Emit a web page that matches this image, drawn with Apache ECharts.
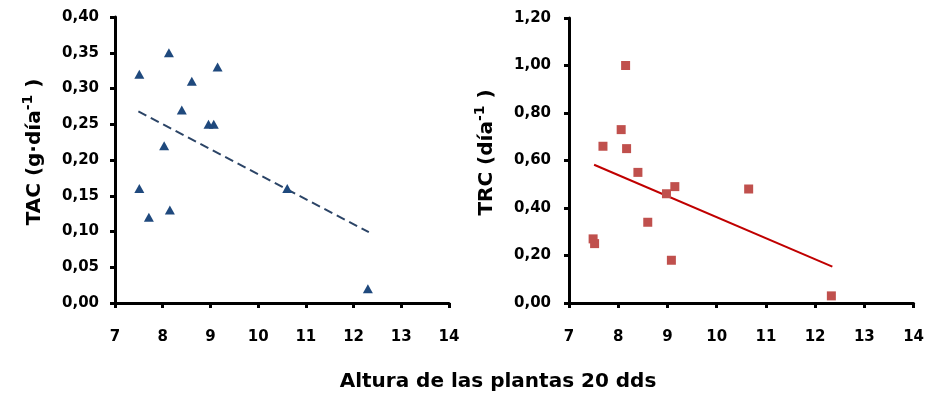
<!DOCTYPE html>
<html>
<head>
<meta charset="utf-8">
<script src="https://cdn.jsdelivr.net/npm/echarts@6/dist/echarts.min.js"></script>
<style>
  html, body { margin: 0; padding: 0; background: #fff; }
  #chart { width: 927px; height: 396px; }
</style>
</head>
<body>
<div id="chart"></div>
<script>
// TAC (left panel): plant height vs absolute growth rate
var tacHeight = [7.51, 8.13, 9.15, 8.61, 8.40, 8.96, 9.07, 8.03, 7.51, 7.71, 8.15, 10.61, 12.30];
var tacValue  = [0.32, 0.35, 0.33, 0.31, 0.27, 0.25, 0.25, 0.22, 0.16, 0.12, 0.13, 0.16, 0.02];
var tacTrendX = [7.49, 12.32];
var tacTrendY = [0.268, 0.099];

// TRC (right panel): plant height vs relative growth rate
var trcHeight = [8.15, 8.06, 7.69, 8.17, 8.40, 8.98, 9.15, 10.65, 8.60, 7.49, 7.52, 9.08, 12.33];
var trcValue  = [1.00, 0.73, 0.66, 0.65, 0.55, 0.46, 0.49, 0.48, 0.34, 0.27, 0.25, 0.18, 0.03];
var trcTrendX = [7.51, 12.35];
var trcTrendY = [0.582, 0.153];

function pairs(xs, ys) {
  return xs.map(function (x, i) { return [x, ys[i]]; });
}

// decimal comma, two places: 0,25
function comma(v) {
  return v.toFixed(2).replace('.', ',');
}

var font = '"DejaVu Sans", Verdana, sans-serif';
var axisLine = { show: true, onZero: false, lineStyle: { color: '#000', width: 3 } };
var axisTick = { show: true, length: 5, lineStyle: { color: '#000', width: 3 } };

function xAxisFor(gridIndex) {
  return {
    gridIndex: gridIndex, type: 'value', min: 7, max: 14, interval: 1,
    axisLine: axisLine, axisTick: axisTick, splitLine: { show: false },
    axisLabel: { color: '#000', fontFamily: font, fontWeight: 'bold', fontSize: 15, margin: 27 }
  };
}

function yAxisFor(gridIndex, max, step, name, gap, labelMargin) {
  return {
    gridIndex: gridIndex, type: 'value', min: 0, max: max, interval: step,
    axisLine: axisLine, axisTick: axisTick, splitLine: { show: false },
    axisLabel: { color: '#000', fontFamily: font, fontWeight: 'bold', fontSize: 15,
      margin: labelMargin, formatter: comma },
    name: name, nameLocation: 'middle', nameGap: gap, nameRotate: 90,
    nameTextStyle: {
      color: '#000', fontFamily: font, fontWeight: 'bold', fontSize: 20,
      padding: [0, 0, 0, 16],
      rich: {
        sup: { fontFamily: font, fontWeight: 'bold', fontSize: 14, verticalAlign: 'top',
          padding: [0, 0, 14, 0], color: '#000' }
      }
    }
  };
}

var chart = echarts.init(document.getElementById('chart'));
chart.setOption({
  animation: false,
  backgroundColor: '#fff',
  grid: [
    { left: 115, right: 478, top: 17, bottom: 93 },
    { left: 569, right: 12, top: 18, bottom: 93 }
  ],
  xAxis: [xAxisFor(0), xAxisFor(1)],
  yAxis: [
    yAxisFor(0, 0.40, 0.05, 'TAC (g·día{sup|-1} )', 66, 16),
    yAxisFor(1, 1.20, 0.20, 'TRC (día{sup|-1} )', 68, 18)
  ],
  graphic: [{
    type: 'text', x: 498, y: 382,
    style: { text: 'Altura de las plantas 20 dds', fill: '#000',
      font: 'bold 20px ' + font, textAlign: 'center', textVerticalAlign: 'middle' }
  }],
  series: [
    {
      type: 'line', xAxisIndex: 0, yAxisIndex: 0, data: pairs(tacTrendX, tacTrendY),
      symbol: 'none', lineStyle: { color: '#2B4466', width: 2, type: [9, 5] }, z: 1
    },
    {
      type: 'scatter', xAxisIndex: 0, yAxisIndex: 0, data: pairs(tacHeight, tacValue),
      symbol: 'triangle', symbolSize: [10, 9], itemStyle: { color: '#1F497D', opacity: 1 }, z: 2
    },
    {
      type: 'line', xAxisIndex: 1, yAxisIndex: 1, data: pairs(trcTrendX, trcTrendY),
      symbol: 'none', lineStyle: { color: '#C00000', width: 2 }, z: 1
    },
    {
      type: 'scatter', xAxisIndex: 1, yAxisIndex: 1, data: pairs(trcHeight, trcValue),
      symbol: 'rect', symbolSize: 9, itemStyle: { color: '#C0504D', opacity: 1 }, z: 2
    }
  ]
});
</script>
</body>
</html>
